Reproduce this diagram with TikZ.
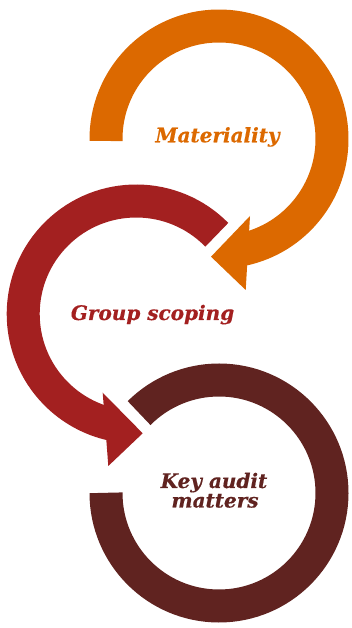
\documentclass[tikz,border=0pt]{standalone}
\usepackage{fontspec}
\newfontfamily\labelfont{DejaVu Serif}[BoldItalicFeatures={FakeBold=0.5}]
\definecolor{pwcorange}{HTML}{DC6900}
\definecolor{pwcred}{HTML}{A32020}
\definecolor{pwcmaroon}{HTML}{602320}
\begin{document}
\begin{tikzpicture}[x=1pt,y=1pt,
  ring/.style={line width=33pt},
  lbl/.style={font=\labelfont\bfseries\itshape\fontsize{20}{21}\selectfont, anchor=base, inner sep=0pt, align=center}]
\useasboundingbox (0,0) rectangle (351,628);
% centres
\coordinate (O) at (219,489);
\coordinate (R) at (136.2,314);
\coordinate (D) at (219,135);
% orange ring + head
\draw[ring, pwcorange] (O) ++(181:113) arc[start angle=181, end angle=-78, radius=113];
\coordinate (otip) at (211,371.3);
\coordinate (ob1) at (250,412);
\coordinate (ob2) at (245.7,338);
\fill[pwcorange] (otip) -- (ob1) -- (ob2) -- cycle;
% red ring + head
\draw[ring, pwcred] (R) ++(44.5:113) arc[start angle=44.5, end angle=258, radius=113];
\coordinate (rtip) at (142.7,194.7);
\coordinate (rb1) at (102.7,235.3);
\coordinate (rb2) at (108.3,162);
\fill[pwcred] (rtip) -- (rb1) -- (rb2) -- cycle;
% maroon ring
\draw[ring, pwcmaroon] (D) ++(179.9:113) arc[start angle=179.9, end angle=495, radius=113];
% labels
\node[lbl, text=pwcorange] (mat) at (217.5,485.7) {Materiality};
\node[lbl, text=pwcred] (grp) at (152.5,308) {Group scoping};
\node[lbl, text=pwcmaroon] (kam1) at (214,140) {Key audit};
\node[lbl, text=pwcmaroon] (kam2) at (215,120.5) {matters};
\end{tikzpicture}
\end{document}
